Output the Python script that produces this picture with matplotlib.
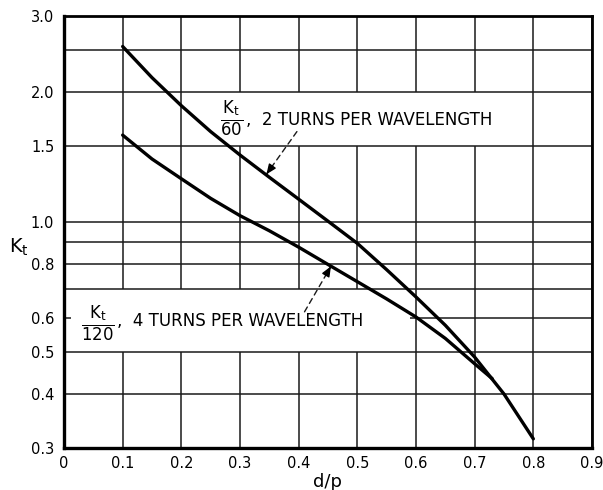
import matplotlib
matplotlib.use("Agg")
import matplotlib.pyplot as plt
from matplotlib.ticker import FixedLocator, NullLocator

# Data
x_two = [0.10, 0.15, 0.20, 0.25, 0.30, 0.35, 0.40, 0.45, 0.50, 0.55, 0.60, 0.65, 0.70, 0.75, 0.80]
kt_two = [2.55, 2.16, 1.86, 1.62, 1.43, 1.27, 1.13, 1.005, 0.893, 0.776, 0.671, 0.577, 0.487, 0.40, 0.315]

x_four = [0.10, 0.15, 0.20, 0.25, 0.30, 0.35, 0.40, 0.45, 0.50, 0.55, 0.60, 0.65, 0.70, 0.73]
kt_four = [1.59, 1.40, 1.26, 1.135, 1.035, 0.955, 0.875, 0.798, 0.728, 0.664, 0.603, 0.538, 0.47, 0.434]

x_ticks = [0, 0.1, 0.2, 0.3, 0.4, 0.5, 0.6, 0.7, 0.8, 0.9]
x_tick_labels = ["0", "0.1", "0.2", "0.3", "0.4", "0.5", "0.6", "0.7", "0.8", "0.9"]
y_ticks = [0.3, 0.4, 0.5, 0.6, 0.8, 1.0, 1.5, 2.0, 3.0]
y_tick_labels = ["0.3", "0.4", "0.5", "0.6", "0.8", "1.0", "1.5", "2.0", "3.0"]
y_grid = [0.3, 0.4, 0.5, 0.7, 0.8, 0.9, 1.0, 1.5, 2.0, 2.5, 3.0]

plt.rcParams['font.family'] = ['DejaVu Sans']
plt.rcParams['mathtext.fontset'] = 'dejavusans'

fig = plt.figure(figsize=(6.03, 4.90), dpi=100)
ax = fig.add_axes([64/603, 1-448/490, (592-64)/603, (448-16)/490])

ax.set_yscale('log')
ax.set_xlim(0, 0.9)
ax.set_ylim(0.3, 3.0)

ink = '#1a1a1a'
glw = 1.1
# vertical grid lines, broken where the label panels sit
for gx in x_ticks:
    segs = [(0.3, 3.0)]
    if 0.25 < gx < 0.75:
        segs = [(0.3, 1.5), (2.0, 3.0)]
    if 0.05 < gx < 0.55:
        new = []
        for s0, s1 in segs:
            if s0 < 0.5 and s1 > 0.7:
                new += [(s0, 0.5), (0.7, s1)]
            else:
                new.append((s0, s1))
        segs = new
    for s0, s1 in segs:
        ax.vlines(gx, s0, s1, color=ink, lw=glw, zorder=1)
for gy in y_grid:
    ax.hlines(gy, 0, 0.9, color=ink, lw=glw, zorder=1)
# 0.6 line only outside the lower label panel
ax.hlines(0.6, 0, 0.012, color=ink, lw=glw, zorder=1)
ax.hlines(0.6, 0.59, 0.9, color=ink, lw=glw, zorder=1)

ax.plot(x_two, kt_two, color='black', lw=2.4, zorder=4, solid_capstyle='round')
ax.plot(x_four, kt_four, color='black', lw=2.4, zorder=4, solid_capstyle='round')

ax.xaxis.set_major_locator(FixedLocator(x_ticks))
ax.set_xticklabels(x_tick_labels)
ax.yaxis.set_major_locator(FixedLocator(y_ticks))
ax.yaxis.set_minor_locator(NullLocator())
ax.set_yticklabels(y_tick_labels)
ax.tick_params(axis='both', length=0, labelsize=10.5, colors='black')
ax.tick_params(axis='x', pad=6)
ax.tick_params(axis='y', pad=7)

for s in ax.spines.values():
    s.set_linewidth(2.0)
    s.set_color('black')
    s.set_zorder(5)
ax.spines['left'].set_linewidth(2.4)
ax.spines['bottom'].set_linewidth(2.4)

ax.set_xlabel('d/p', fontsize=13, labelpad=1)
fig.text(9/603, 1-247/490, r'K$_\mathrm{t}$', fontsize=14, ha='left', va='center')

# labels
ax.text(0.286, 1.73, r'$\frac{\mathrm{K_t}}{\mathrm{60}}$', fontsize=17, ha='center',
        va='center', zorder=3)
ax.text(0.311, 1.72, ',  2 TURNS PER WAVELENGTH', fontsize=12, ha='left',
        va='center', zorder=3)
ax.text(0.058, 0.583, r'$\frac{\mathrm{K_t}}{\mathrm{120}}$', fontsize=17, ha='center',
        va='center', zorder=3)
ax.text(0.09, 0.59, ',  4 TURNS PER WAVELENGTH', fontsize=12, ha='left',
        va='center', zorder=3)

# dashed arrows
def dashed_arrow(start, end):
    ax.annotate('', xy=end, xytext=start,
                arrowprops=dict(arrowstyle='-', linestyle=(0, (4, 3)), lw=1.0,
                                color=ink, shrinkA=0, shrinkB=0), zorder=3)
    ax.annotate('', xy=end, xytext=(start[0] + (end[0]-start[0])*0.8,
                                    start[1] * (end[1]/start[1])**0.8),
                arrowprops=dict(arrowstyle='-|>,head_length=0.6,head_width=0.25',
                                lw=1.0, color='black', shrinkA=0, shrinkB=0), zorder=3)

dashed_arrow((0.397, 1.62), (0.345, 1.29))
dashed_arrow((0.41, 0.62), (0.455, 0.79))

fig.savefig('out.png', dpi=100, facecolor='white')
